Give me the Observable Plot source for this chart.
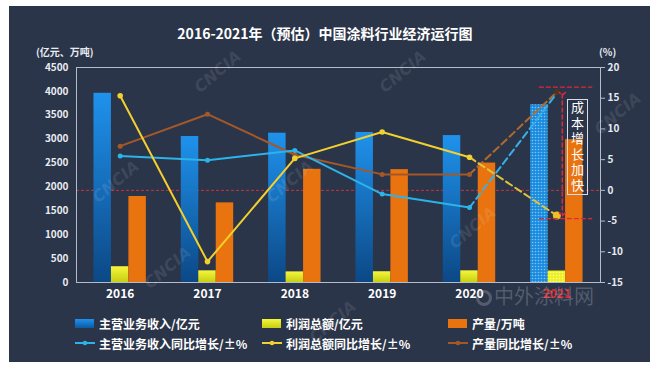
<!DOCTYPE html>
<html><head><meta charset="utf-8">
<script src="https://cdn.jsdelivr.net/npm/d3@7"></script>
<script src="https://cdn.jsdelivr.net/npm/@observablehq/plot@0.6"></script>
<style>
body{margin:0;background:#fff;width:657px;height:371px;position:relative;overflow:hidden;font-family:"Noto Sans CJK SC","Noto Sans",sans-serif;}
.abs{position:absolute;}
#panel{left:9px;top:6px;width:641px;height:356px;background:#2b3549;}
#title{left:0;top:23px;width:650px;text-align:center;color:#fff;font-size:14px;font-weight:bold;line-height:20px;}
.unit{color:#e8ecf2;font-size:10px;font-weight:bold;line-height:12px;}
.leg{display:flex;align-items:center;height:16px;color:#fff;font-size:12px;font-weight:bold;white-space:nowrap;}
.wm{color:rgba(255,255,255,0.10);font-size:16px;font-weight:bold;font-style:italic;font-family:"DejaVu Sans",sans-serif;transform:rotate(-40deg);pointer-events:none;}
#box{left:567px;top:99px;width:19px;height:94px;border:1px solid #d8dde6;color:#fff;font-size:13px;writing-mode:vertical-rl;text-orientation:upright;letter-spacing:2.5px;line-height:19px;text-align:center;}
</style></head><body>
<div id="panel" class="abs"></div>
<div id="title" class="abs">2016-2021年（预估）中国涂料行业经济运行图</div>
<div class="abs unit" style="left:36px;top:46px">(亿元、万吨)</div>
<div class="abs unit" style="left:599px;top:46px">(%)</div>
<div id="chart" class="abs" style="left:0;top:40px"></div>
<div id="box" class="abs">成本增长加快</div>
<div id="legend"></div>
<div id="wms"></div>
<script>
// ---- data ----
const years = ["2016", "2017", "2018", "2019", "2020", "2021"];
const revenue = [3960, 3055, 3125, 3140, 3075, 3720];      // 主营业务收入/亿元
const profit = [330, 244, 222, 225, 244, 240];             // 利润总额/亿元
const output = [1800, 1667, 2369, 2362, 2500, 2990];       // 产量/万吨
const revenueGrowth = [5.6, 4.9, 6.5, -0.6, -2.8, 15.8];   // %
const profitGrowth = [15.4, -11.6, 5.2, 9.5, 5.4, -4.1];   // %
const outputGrowth = [7.2, 12.4, 5.8, 2.6, 2.6, 16.0];     // %
const leftTicks = [0, 500, 1000, 1500, 2000, 2500, 3000, 3500, 4000, 4500];
const rightTicks = [-15, -10, -5, 0, 5, 10, 15, 20];
const barLegend = ["主营业务收入/亿元", "利润总额/亿元", "产量/万吨"];
const lineLegend = ["主营业务收入同比增长/±%", "利润总额同比增长/±%", "产量同比增长/±%"];
const annotation = {top: 16.8, bottom: -4.6, arrowTop: 15.7, arrowBottom: -3.9};

// ---- scales helpers ----
const pct = p => (p + 15) * 4500 / 35;
const unpct = v => Math.round(v * 35 / 4500 - 15);
const xDomain = years.flatMap(y => [y + "_L", y + "_a", y + "_b", y + "_c", y + "_R"]);
const rows = years.map((y, i) => ({
  year: y, i,
  ka: y + "_a", kb: y + "_b", kc: y + "_c",
  rev: revenue[i], profit: profit[i], output: output[i],
  rg: pct(revenueGrowth[i]), pg: pct(profitGrowth[i]), og: pct(outputGrowth[i])
}));
const actual = rows.slice(0, 5);
const proj = rows.slice(4, 6);
const last = rows.slice(5);

const C = {blue: "#2bb3ea", yellow: "#f2d02e", brown: "#a3582a", red: "#e0283a", frame: "#b4bccb"};

const chart = Plot.plot({
  width: 657, height: 270,
  marginLeft: 76, marginRight: 57, marginTop: 27, marginBottom: 28,
  x: {type: "band", domain: xDomain, padding: 0, round: false, axis: null},
  y: {domain: [0, 4500], axis: null},
  style: {background: "transparent", color: "#e8ecf2", fontFamily: "Noto Sans CJK SC, Noto Sans, sans-serif"},
  marks: [
    Plot.ruleY([pct(0)], {stroke: "#c8323e", strokeDasharray: "3,2", strokeWidth: 1}),
    Plot.barY(actual, {x: "ka", y: "rev", fill: "url(#gBlue)"}),
    Plot.barY(last, {x: "ka", y: "rev", fill: "url(#pBlue)"}),
    Plot.barY(actual, {x: "kb", y: "profit", fill: "url(#gYellow)"}),
    Plot.barY(last, {x: "kb", y: "profit", fill: "url(#pYellow)"}),
    Plot.barY(rows, {x: "kc", y: "output", fill: "#e8730f"}),
    Plot.frame({stroke: C.frame, strokeWidth: 1}),
    Plot.axisY(leftTicks, {anchor: "left", tickSize: 0, tickPadding: 8, label: null, tickFormat: d => String(d), fontSize: 10, fontWeight: "bold"}),
    Plot.axisY(rightTicks.map(pct), {anchor: "right", tickSize: 4, tickPadding: 3, label: null, tickFormat: unpct, stroke: C.frame, fontSize: 10, fontWeight: "bold"}),
    Plot.text(rows, {x: "kb", frameAnchor: "bottom", dy: 15, text: "year", fill: d => d.i === 5 ? "#e02a30" : "#ffffff", fontSize: 12, fontWeight: "bold"}),
    // solid lines
    Plot.line(actual, {x: "kb", y: "og", stroke: C.brown, strokeWidth: 2}),
    Plot.line(actual, {x: "kb", y: "rg", stroke: C.blue, strokeWidth: 2}),
    Plot.line(actual, {x: "kb", y: "pg", stroke: C.yellow, strokeWidth: 2}),
    // projected dashed
    Plot.line(proj, {x: "kb", y: "og", stroke: "#b06a2c", strokeWidth: 2, strokeDasharray: "7,4"}),
    Plot.line(proj, {x: "kb", y: "rg", stroke: "#36b0e6", strokeWidth: 2, strokeDasharray: "7,4"}),
    Plot.line(proj, {x: "kb", y: "pg", stroke: "#e2c23a", strokeWidth: 2, strokeDasharray: "7,4"}),
    Plot.dot(actual, {x: "kb", y: "og", r: 2.5, fill: C.brown}),
    Plot.dot(actual, {x: "kb", y: "rg", r: 2.5, fill: C.blue}),
    Plot.dot(actual, {x: "kb", y: "pg", r: 2.8, fill: C.yellow}),
    Plot.dot(last, {x: "kb", y: "og", r: 3, fill: "#4a3626"}),
    Plot.dot(last, {x: "kb", y: "pg", r: 4, fill: "#f0c020"}),
    // annotation
    Plot.line([{x: "2021_a", y: pct(annotation.top)}, {x: "2021_R", y: pct(annotation.top)}], {x: "x", y: "y", stroke: C.red, strokeWidth: 1.2, strokeDasharray: "4,3"}),
    Plot.line([{x: "2021_a", y: pct(annotation.bottom)}, {x: "2021_R", y: pct(annotation.bottom)}], {x: "x", y: "y", stroke: C.red, strokeWidth: 1.2, strokeDasharray: "4,3"}),
    Plot.line([{x: "2021_c", y: pct(annotation.arrowTop)}, {x: "2021_c", y: pct(annotation.arrowBottom)}], {x: "x", y: "y", dx: -12, stroke: C.red, strokeWidth: 1.5, strokeDasharray: "4,3", markerStart: "arrow", markerEnd: "arrow"})
  ]
});
chart.insertAdjacentHTML("afterbegin", `<defs>
<linearGradient id="gBlue" x1="0" y1="0" x2="0" y2="1"><stop offset="0" stop-color="#1f92ec"/><stop offset="1" stop-color="#0c4886"/></linearGradient>
<linearGradient id="gYellow" x1="0" y1="0" x2="0" y2="1"><stop offset="0" stop-color="#f6f63c"/><stop offset="1" stop-color="#c6cf12"/></linearGradient>
<pattern id="pBlue" patternUnits="userSpaceOnUse" width="3" height="3"><rect width="3" height="3" fill="#1b8be0"/><circle cx="1.5" cy="1.5" r="0.8" fill="#7cc6f4"/></pattern>
<pattern id="pYellow" patternUnits="userSpaceOnUse" width="3" height="3"><rect width="3" height="3" fill="#eef020"/><circle cx="1.5" cy="1.5" r="0.8" fill="#fbff9a"/></pattern>
</defs>`);
document.getElementById("chart").appendChild(chart);

// ---- legend ----
const legendCols = [75, 262, 448];
const barSw = ["linear-gradient(#1f92ec,#0c5aa0)", "linear-gradient(#f6f63c,#c6cf12)", "#e8730f"];
const lineCol = [C.blue, C.yellow, C.brown];
const lg = document.getElementById("legend");
barLegend.forEach((t, i) => {
  lg.insertAdjacentHTML("beforeend", `<div class="abs leg" style="left:${legendCols[i]}px;top:315px"><span style="display:inline-block;width:19px;height:9px;background:${barSw[i]};margin-right:5px"></span>${t}</div>`);
});
lineLegend.forEach((t, i) => {
  lg.insertAdjacentHTML("beforeend", `<div class="abs leg" style="left:${legendCols[i]}px;top:335px"><svg width="20" height="8" style="margin-right:4px"><line x1="0" y1="4" x2="20" y2="4" stroke="${lineCol[i]}" stroke-width="2"/><circle cx="10" cy="4" r="2.3" fill="${lineCol[i]}"/></svg>${t}</div>`);
});

// ---- watermarks ----
const wmPos = [[88, 172], [190, 62], [140, 258], [262, 172], [375, 62], [445, 218], [590, 104], [305, 312]];
const wm = document.getElementById("wms");
wmPos.forEach(([x, y]) => wm.insertAdjacentHTML("beforeend", `<div class="abs wm" style="left:${x}px;top:${y}px">CNCIA</div>`));
wm.insertAdjacentHTML("beforeend", `<div class="abs" style="left:476px;top:284px;color:rgba(190,196,206,0.28);font-size:20px;line-height:24px;pointer-events:none;white-space:nowrap"><span style="display:inline-block;width:16px;height:16px;border:3px solid rgba(190,196,206,0.28);border-radius:50%;box-sizing:border-box;vertical-align:-2px;margin-right:2px"></span>中外涂料网</div>`);
</script>
</body></html>
